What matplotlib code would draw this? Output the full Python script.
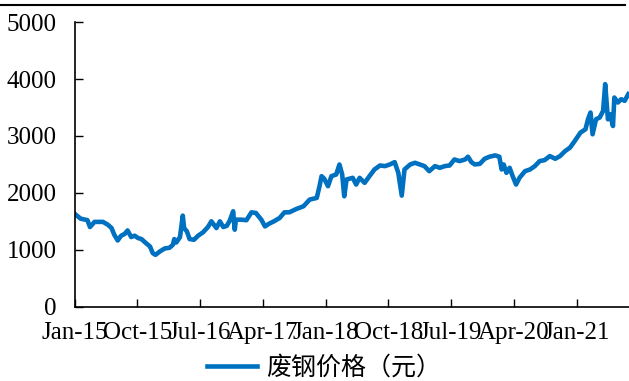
import matplotlib
matplotlib.use("Agg")
import matplotlib.pyplot as plt
from matplotlib.lines import Line2D
import pandas as pd

plt.rcParams['font.family'] = ['Liberation Serif', 'Noto Sans CJK SC']

# 废钢价格（元），按日期取样
fechas = [
    "2015-01-05", "2015-01-26", "2015-02-25", "2015-03-08", "2015-03-28", "2015-05-04",
    "2015-05-25", "2015-06-10", "2015-06-22", "2015-07-07", "2015-07-22", "2015-08-07",
    "2015-08-19", "2015-09-04", "2015-09-19", "2015-10-04", "2015-10-19", "2015-11-04",
    "2015-11-25", "2015-12-07", "2015-12-19", "2016-01-07", "2016-01-28", "2016-02-18",
    "2016-03-04", "2016-03-10", "2016-03-19", "2016-04-04", "2016-04-16", "2016-04-22",
    "2016-05-04", "2016-05-16", "2016-06-04", "2016-06-22", "2016-07-13", "2016-08-04",
    "2016-08-19", "2016-09-10", "2016-09-25", "2016-10-10", "2016-10-25", "2016-11-07",
    "2016-11-22", "2016-11-29", "2016-12-04", "2016-12-28", "2017-01-19", "2017-02-10",
    "2017-03-01", "2017-03-25", "2017-04-10", "2017-04-28", "2017-05-19", "2017-06-13",
    "2017-07-04", "2017-07-25", "2017-08-25", "2017-09-25", "2017-10-22", "2017-11-22",
    "2017-12-04", "2017-12-13", "2017-12-25", "2018-01-10", "2018-01-25", "2018-02-15",
    "2018-03-01", "2018-03-13", "2018-03-22", "2018-04-01", "2018-04-28", "2018-05-13",
    "2018-05-28", "2018-06-19", "2018-07-10", "2018-08-01", "2018-08-25", "2018-09-16",
    "2018-10-07", "2018-10-28", "2018-11-13", "2018-11-28", "2018-12-10", "2019-01-04",
    "2019-01-25", "2019-02-15", "2019-03-07", "2019-03-28", "2019-04-22", "2019-05-13",
    "2019-06-04", "2019-06-25", "2019-07-16", "2019-08-07", "2019-09-01", "2019-09-13",
    "2019-09-28", "2019-10-13", "2019-11-04", "2019-11-25", "2019-12-16", "2020-01-10",
    "2020-01-28", "2020-02-07", "2020-02-16", "2020-02-28", "2020-03-13", "2020-03-25",
    "2020-04-10", "2020-04-25", "2020-05-19", "2020-06-10", "2020-07-01", "2020-07-22",
    "2020-08-13", "2020-09-04", "2020-09-28", "2020-10-19", "2020-11-10", "2020-12-01",
    "2020-12-22", "2021-01-16", "2021-02-07", "2021-02-18", "2021-03-01", "2021-03-10",
    "2021-03-25", "2021-04-10", "2021-04-25", "2021-05-04", "2021-05-16", "2021-05-25",
    "2021-06-07", "2021-06-13", "2021-06-28", "2021-07-13", "2021-07-28", "2021-08-13",
]
precios = [
    1617, 1547, 1520, 1400, 1490, 1490,
    1440, 1383, 1265, 1164, 1247, 1280,
    1340, 1224, 1247, 1206, 1188, 1129,
    1058, 941, 911, 970, 1023, 1035,
    1088, 1188, 1129, 1223, 1600, 1382,
    1323, 1188, 1176, 1247, 1305, 1400,
    1500, 1382, 1500, 1400, 1420, 1510,
    1676, 1353, 1529, 1529, 1520, 1658,
    1647, 1529, 1411, 1458, 1500, 1559,
    1658, 1658, 1717, 1764, 1882, 1911,
    2117, 2293, 2246, 2117, 2293, 2323,
    2499, 2323, 1940, 2235, 2264, 2146,
    2264, 2176, 2293, 2411, 2481, 2470,
    2499, 2540, 2352, 1952, 2411, 2499,
    2528, 2499, 2470, 2381, 2470, 2440,
    2470, 2481, 2587, 2558, 2587, 2635,
    2540, 2499, 2510, 2599, 2635, 2658,
    2635, 2411, 2499, 2352, 2440, 2305,
    2146, 2264, 2381, 2411, 2470, 2558,
    2576, 2646, 2599, 2646, 2734, 2793,
    2910, 3058, 3117, 3293, 3411, 3029,
    3293, 3323, 3440, 3910, 3293, 3382,
    3175, 3675, 3587, 3645, 3617, 3734,
]
etiquetas_x = ["Jan-15", "Oct-15", "Jul-16", "Apr-17", "Jan-18",
               "Oct-18", "Jul-19", "Apr-20", "Jan-21"]
ticks_y = [0, 1000, 2000, 3000, 4000, 5000]

fechas = pd.to_datetime(fechas)
ticks_x = pd.to_datetime(etiquetas_x, format="%b-%y")

fig = plt.figure(figsize=(6.29, 3.81), dpi=100)
ax = fig.add_axes([0.119, 0.195, 0.881, 0.747])

ax.plot(fechas, precios, color='#0070C0', linewidth=3.3, label='废钢价格（元）')

ax.set_ylim(0, 5000)
ax.set_yticks(ticks_y)
ax.set_xlim(pd.Timestamp("2015-01-01"), pd.Timestamp("2021-08-16"))
ax.set_xticks(ticks_x)
ax.set_xticklabels(etiquetas_x)

for lado in ['top', 'right']:
    ax.spines[lado].set_visible(False)
ax.spines['left'].set_linewidth(1.2)
ax.spines['bottom'].set_linewidth(1.2)
ax.tick_params(axis='both', direction='in', length=6, width=1, labelsize=18)
ax.tick_params(axis='y', pad=13)
ax.tick_params(axis='x', pad=11)

fig.legend(loc='center', bbox_to_anchor=(0.515, 0.035), frameon=False,
           fontsize=18, handlelength=2.0, handletextpad=0.35,
           borderpad=0, borderaxespad=0)

# linea de cabecera
fig.add_artist(Line2D([0.0, 0.994], [0.987, 0.987], color='black', linewidth=1.5))

fig.savefig('out.png', dpi=100)
